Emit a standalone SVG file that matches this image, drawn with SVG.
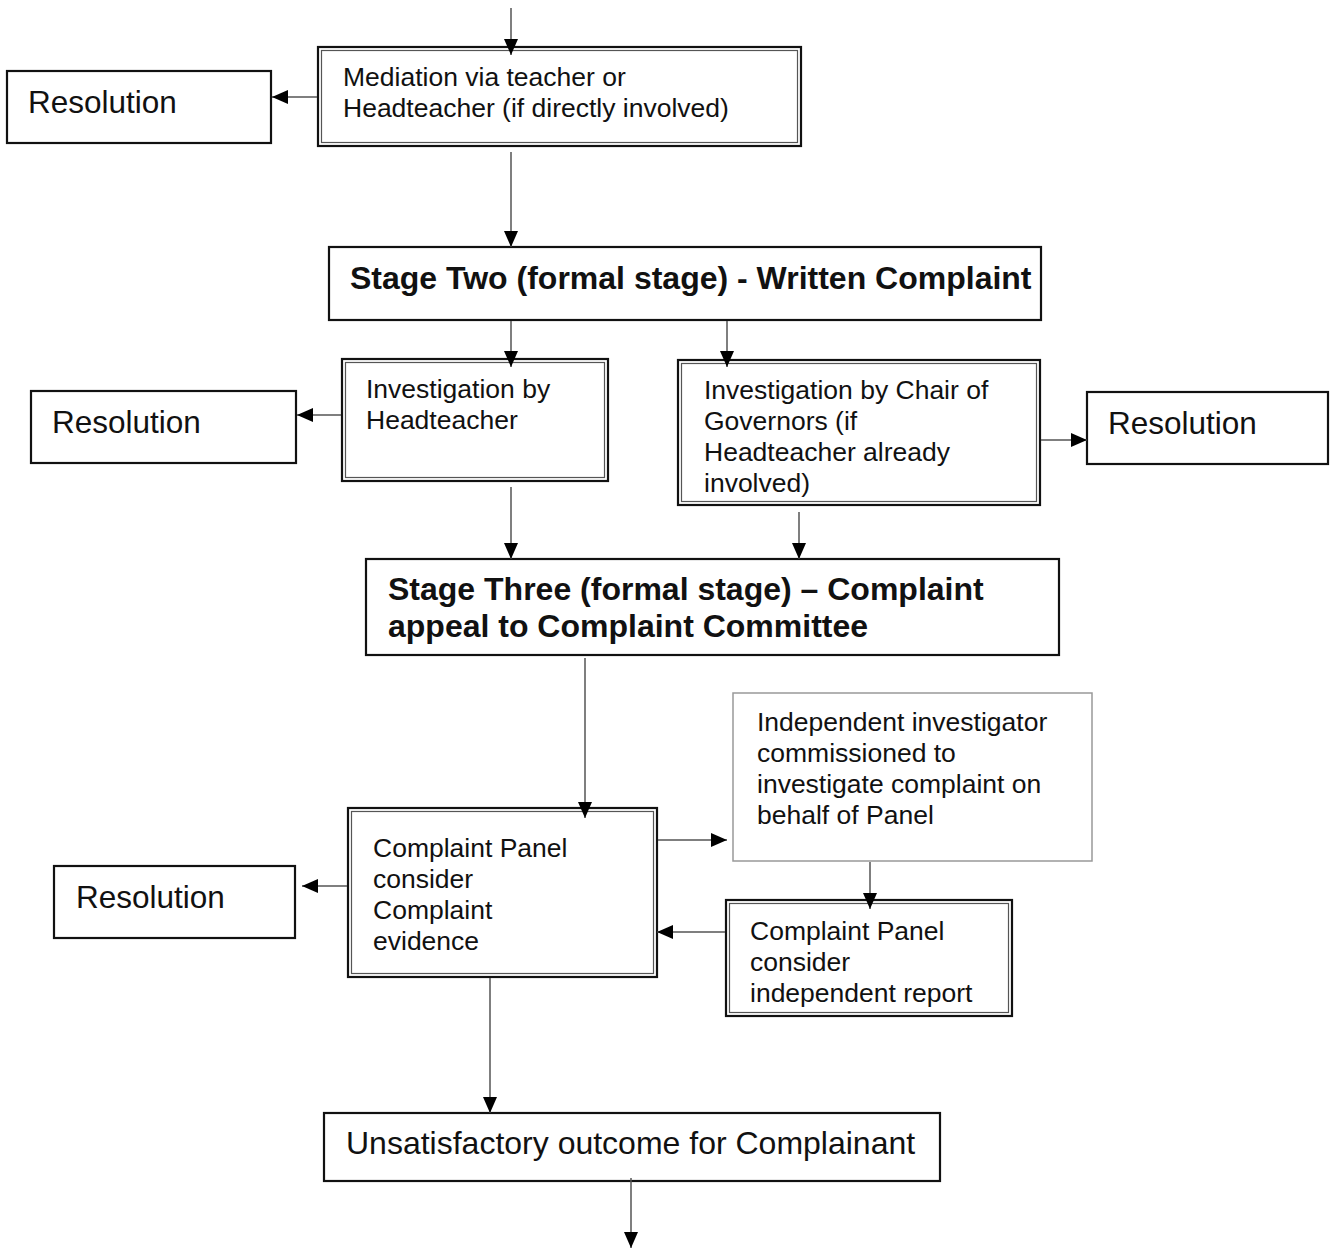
<svg xmlns="http://www.w3.org/2000/svg" width="1334" height="1248" viewBox="0 0 1334 1248">
<style>
.box{fill:#fff;stroke:#111;stroke-width:2.2}
.inner{fill:none;stroke:#555;stroke-width:1.2}
.thin{fill:#fff;stroke:#999;stroke-width:1.5}
.t{font-family:"Liberation Sans",Arial,sans-serif;font-size:26.5px;fill:#111}
.r{font-family:"Liberation Sans",Arial,sans-serif;font-size:31.5px;fill:#111}
.u{font-family:"Liberation Sans",Arial,sans-serif;font-size:32px;fill:#111}
.b{font-family:"Liberation Sans",Arial,sans-serif;font-size:32px;font-weight:bold;fill:#111}
.c{fill:none;stroke:#555;stroke-width:1.5;marker-end:url(#ah)}
</style>
<defs>
<marker id="ah" markerWidth="16" markerHeight="14" refX="16" refY="7" orient="auto" markerUnits="userSpaceOnUse">
<path d="M0,0 L16,7 L0,14 z" fill="#000"/>
</marker>
</defs>
<rect width="1334" height="1248" fill="#fff"/>
<g id="mediation">
<rect class="box" x="318" y="47" width="483" height="99"/>
<rect class="inner" x="321.5" y="50.5" width="476" height="92"/>
<text class="t" x="343" y="86">Mediation via teacher or</text>
<text class="t" x="343" y="117">Headteacher (if directly involved)</text>
</g>
<g id="resolution1">
<rect class="box" x="7" y="71" width="264" height="72"/>
<text class="r" x="28" y="113">Resolution</text>
</g>
<g id="stage-two">
<rect class="box" x="329" y="247" width="712" height="73"/>
<text class="b" x="350" y="289">Stage Two (formal stage) - Written Complaint</text>
</g>
<g id="inv-headteacher">
<rect class="box" x="342" y="359" width="266" height="122"/>
<rect class="inner" x="345.5" y="362.5" width="259" height="115"/>
<text class="t" x="366" y="398">Investigation by</text>
<text class="t" x="366" y="429">Headteacher</text>
</g>
<g id="inv-chair">
<rect class="box" x="678" y="360" width="362" height="145"/>
<rect class="inner" x="681.5" y="363.5" width="355" height="138"/>
<text class="t" x="704" y="399">Investigation by Chair of</text>
<text class="t" x="704" y="430">Governors (if</text>
<text class="t" x="704" y="461">Headteacher already</text>
<text class="t" x="704" y="492">involved)</text>
</g>
<g id="resolution2">
<rect class="box" x="31" y="391" width="265" height="72"/>
<text class="r" x="52" y="433">Resolution</text>
</g>
<g id="resolution3">
<rect class="box" x="1087" y="392" width="241" height="72"/>
<text class="r" x="1108" y="434">Resolution</text>
</g>
<g id="stage-three">
<rect class="box" x="366" y="559" width="693" height="96"/>
<text class="b" x="388" y="600">Stage Three (formal stage) – Complaint</text>
<text class="b" x="388" y="637">appeal to Complaint Committee</text>
</g>
<g id="independent">
<rect class="thin" x="733" y="693" width="359" height="168"/>
<text class="t" x="757" y="731">Independent investigator</text>
<text class="t" x="757" y="762">commissioned to</text>
<text class="t" x="757" y="793">investigate complaint on</text>
<text class="t" x="757" y="824">behalf of Panel</text>
</g>
<g id="panel-evidence">
<rect class="box" x="348" y="808" width="309" height="169"/>
<rect class="inner" x="351.5" y="811.5" width="302" height="162"/>
<text class="t" x="373" y="857">Complaint Panel</text>
<text class="t" x="373" y="888">consider</text>
<text class="t" x="373" y="919">Complaint</text>
<text class="t" x="373" y="950">evidence</text>
</g>
<g id="resolution4">
<rect class="box" x="54" y="866" width="241" height="72"/>
<text class="r" x="76" y="908">Resolution</text>
</g>
<g id="panel-report">
<rect class="box" x="726" y="900" width="286" height="116"/>
<rect class="inner" x="729.5" y="903.5" width="279" height="109"/>
<text class="t" x="750" y="940">Complaint Panel</text>
<text class="t" x="750" y="971">consider</text>
<text class="t" x="750" y="1002">independent report</text>
</g>
<g id="unsatisfactory">
<rect class="box" x="324" y="1113" width="616" height="68"/>
<text class="u" x="346" y="1154">Unsatisfactory outcome for Complainant</text>
</g>
<g id="connectors">
<path class="c" d="M511,8 V55"/>
<path class="c" d="M317,97 H272"/>
<path class="c" d="M511,152 V247"/>
<path class="c" d="M511,321 V367"/>
<path class="c" d="M727,321 V367"/>
<path class="c" d="M341,415 H297"/>
<path class="c" d="M1041,440 H1087"/>
<path class="c" d="M511,487 V559"/>
<path class="c" d="M799,512 V559"/>
<path class="c" d="M585,658 V818"/>
<path class="c" d="M658,840 H727"/>
<path class="c" d="M870,862 V909"/>
<path class="c" d="M725,932 H657"/>
<path class="c" d="M347,886 H302"/>
<path class="c" d="M490,978 V1113"/>
<path class="c" d="M631,1178 V1248"/>
</g>
</svg>
